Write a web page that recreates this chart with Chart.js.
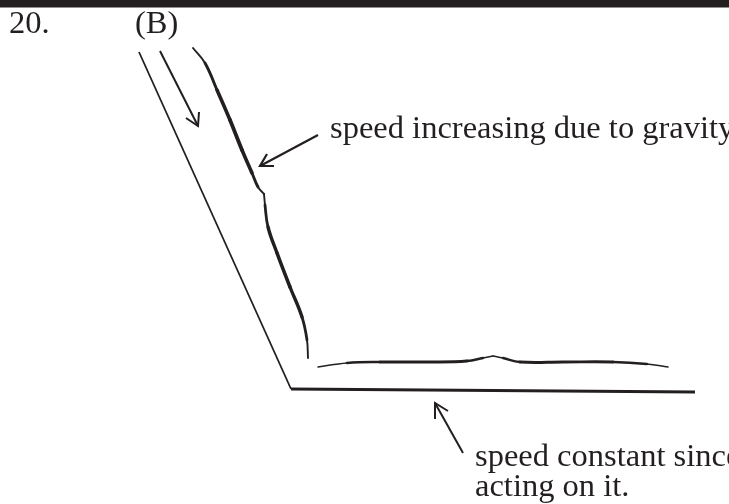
<!DOCTYPE html>
<html>
<head>
<meta charset="utf-8">
<script src="https://cdn.jsdelivr.net/npm/chart.js@4"></script>
<style>
  html, body { margin: 0; padding: 0; background: #fff; }
  #wrap { width: 729px; height: 504px; }
</style>
</head>
<body>
<div id="wrap"><canvas id="sketch"></canvas></div>
<script>
// ---- Diagram data (units = px of the 729x504 sheet, y measured downwards) ----
const topRule     = [{x: 0, y: 3.5}, {x: 729, y: 3.5}];
const incline     = [{x: 139, y: 52}, {x: 291, y: 389}];
const floorLine   = [{x: 291, y: 389}, {x: 695, y: 392}];

// brace along the incline (kink splits it in two arms)
const braceUpper  = [{x: 193, y: 48}, {x: 205, y: 63}, {x: 217, y: 90}, {x: 230, y: 120},
                     {x: 242, y: 150}, {x: 252, y: 173}, {x: 258, y: 187}, {x: 264, y: 194}];
const braceLower  = [{x: 264, y: 194}, {x: 265, y: 205}, {x: 268, y: 227}, {x: 277, y: 253},
                     {x: 290, y: 287}, {x: 302, y: 317}, {x: 307, y: 340}, {x: 308, y: 358}];

// brace above the floor
const braceLeft   = [{x: 318, y: 367}, {x: 347, y: 363}, {x: 380, y: 362}, {x: 430, y: 362},
                     {x: 467, y: 361}, {x: 483, y: 358}, {x: 493, y: 356}];
const braceRight  = [{x: 493, y: 356}, {x: 503, y: 358}, {x: 520, y: 362}, {x: 563, y: 362},
                     {x: 613, y: 362}, {x: 647, y: 364}, {x: 668, y: 367}];

// arrows: shaft + open head
const downShaft   = [{x: 160, y: 51}, {x: 198, y: 126}];
const downHead    = [{x: 186, y: 118}, {x: 198, y: 126}, {x: 199, y: 112}];
const gravShaft   = [{x: 318, y: 135}, {x: 260, y: 166}];
const gravHead    = [{x: 267, y: 154}, {x: 260, y: 166}, {x: 274, y: 166}];
const upShaft     = [{x: 463, y: 453}, {x: 435, y: 403}];
const upHead      = [{x: 435, y: 419}, {x: 435, y: 403}, {x: 448, y: 411}];

// text labels
const labelText = ['20.', '(B)', 'speed increasing due to gravity', 'speed constant since', 'acting on it.'];
const labelX    = [9, 135, 330, 475, 475];
const labelY    = [33, 33, 138, 466, 496];

const INK = '#231f20';

// thicker in the middle of a stroke, thin at its ends
function taper(max, min) {
  return ctx => {
    const n = ctx.chart.data.datasets[ctx.datasetIndex].data.length - 1;
    const t = (ctx.p0DataIndex + 0.5) / n;
    return min + (max - min) * Math.sin(Math.PI * t);
  };
}

function stroke(data, width, extra) {
  return Object.assign({
    data,
    showLine: true,
    borderColor: INK,
    borderWidth: width,
    pointRadius: 0,
    tension: 0,
    borderCapStyle: 'butt',
    borderJoinStyle: 'miter'
  }, extra || {});
}

function curve(data, max, min) {
  return stroke(data, max, {
    tension: 0.4,
    borderCapStyle: 'round',
    segment: { borderWidth: taper(max, min) }
  });
}

const labelPlugin = {
  id: 'labels',
  afterDatasetsDraw(chart) {
    const { ctx, scales: { x, y } } = chart;
    ctx.save();
    ctx.fillStyle = INK;
    ctx.font = '32.5px "Liberation Serif", "Times New Roman", serif';
    ctx.textBaseline = 'alphabetic';
    ctx.textAlign = 'left';
    labelText.forEach((t, i) => ctx.fillText(t, x.getPixelForValue(labelX[i]), y.getPixelForValue(labelY[i])));
    ctx.restore();
  }
};

new Chart(document.getElementById('sketch'), {
  type: 'scatter',
  data: {
    datasets: [
      stroke(topRule, 8),
      stroke(incline, 1.8),
      stroke(floorLine, 3),
      curve(braceUpper, 3.8, 1.4),
      curve(braceLower, 3.6, 1.4),
      curve(braceLeft, 3, 1),
      curve(braceRight, 3, 1),
      stroke(downShaft, 2),
      stroke(downHead, 2),
      stroke(gravShaft, 2.2),
      stroke(gravHead, 2.2),
      stroke(upShaft, 2),
      stroke(upHead, 2)
    ]
  },
  options: {
    responsive: true,
    maintainAspectRatio: false,
    animation: false,
    events: [],
    layout: { padding: 0 },
    plugins: { legend: { display: false }, tooltip: { enabled: false } },
    scales: {
      x: { type: 'linear', min: 0, max: 729, display: false },
      y: { type: 'linear', min: 0, max: 504, reverse: true, display: false }
    }
  },
  plugins: [labelPlugin]
});
</script>
</body>
</html>
